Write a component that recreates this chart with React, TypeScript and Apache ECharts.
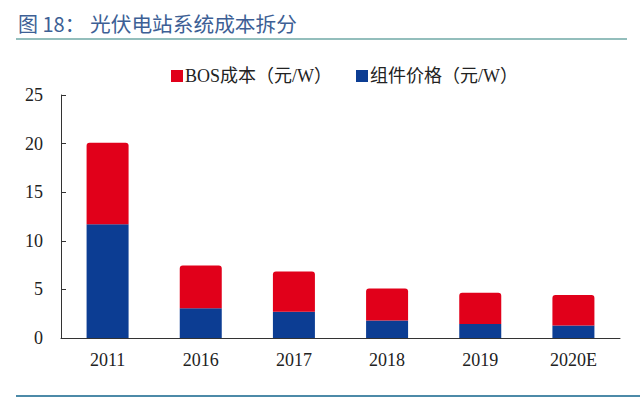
import React, { useEffect, useRef } from "react";
import * as echarts from "echarts";

const categories = ["2011", "2016", "2017", "2018", "2019", "2020E"];
const moduleCost = [11.7, 3.05, 2.7, 1.8, 1.45, 1.28];
const bosCost = [8.4, 4.4, 4.15, 3.3, 3.2, 3.15];
const yTicks = [0, 5, 10, 15, 20, 25];

const RED = "#E1001A";
const BLUE = "#0C3D93";
const SERIF = "'Times New Roman', 'Liberation Serif', 'Noto Sans CJK SC', serif";

export default function App() {
  const ref = useRef<HTMLDivElement>(null);
  useEffect(() => {
    if (!ref.current) return;
    const chart = echarts.init(ref.current, undefined, { renderer: "svg" });
    chart.setOption({
      animation: false,
      backgroundColor: "#ffffff",
      graphic: [
        {
          type: "text",
          left: 18,
          top: 13,
          style: {
            text: "图 18：",
            fontSize: 20,
            fontFamily: "'Noto Sans CJK SC', sans-serif",
            fill: "#3D5F95",
          },
        },
        {
          type: "text",
          left: 90,
          top: 13,
          style: {
            text: "光伏电站系统成本拆分",
            fontSize: 20.7,
            fontFamily: "'Noto Sans CJK SC', sans-serif",
            fill: "#3D5F95",
          },
        },
        {
          type: "line",
          shape: { x1: 16, y1: 39, x2: 627, y2: 39 },
          style: { stroke: "#6FA9A6", lineWidth: 1.5 },
        },
        {
          type: "line",
          shape: { x1: 16, y1: 396, x2: 640, y2: 396 },
          style: { stroke: "#4C8AA8", lineWidth: 2 },
        },
      ],
      legend: {
        top: 62,
        left: 166,
        itemWidth: 12,
        itemHeight: 12,
        itemGap: 24,
        icon: "rect",
        textStyle: { fontSize: 18, fontFamily: SERIF, color: "#222", padding: [0, 0, 0, -3] },
        data: ["BOS成本（元/W）", "组件价格（元/W）"],
      },
      grid: { left: 61, right: 20, top: 95, bottom: 60, containLabel: false },
      xAxis: {
        type: "category",
        data: categories,
        boundaryGap: true,
        axisLine: { lineStyle: { color: "#333", width: 1 } },
        axisTick: { inside: true, length: 5, lineStyle: { color: "#333" } },
        axisLabel: { fontSize: 18, fontFamily: SERIF, color: "#222", margin: 13 },
      },
      yAxis: {
        type: "value",
        min: yTicks[0],
        max: yTicks[yTicks.length - 1],
        interval: 5,
        splitLine: { show: false },
        axisLine: { show: true, lineStyle: { color: "#333", width: 1 } },
        axisTick: { show: true, inside: true, length: 5, lineStyle: { color: "#333" } },
        axisLabel: { fontSize: 18, fontFamily: SERIF, color: "#222", margin: 18 },
      },
      series: [
        {
          name: "组件价格（元/W）",
          type: "bar",
          stack: "total",
          barWidth: 42,
          itemStyle: { color: BLUE },
          data: moduleCost,
        },
        {
          name: "BOS成本（元/W）",
          type: "bar",
          stack: "total",
          barWidth: 42,
          itemStyle: { color: RED, borderRadius: [3, 3, 0, 0] },
          data: bosCost,
        },
      ],
    });
    return () => chart.dispose();
  }, []);
  return <div ref={ref} style={{ width: 640, height: 398, position: "fixed", left: 0, top: 0 }} />;
}
